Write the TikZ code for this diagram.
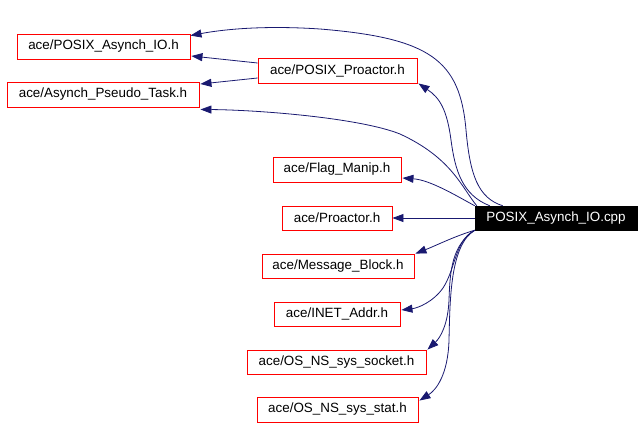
\documentclass[tikz,border=0pt]{standalone}
\usepackage{fontspec}
\setmainfont{Liberation Sans}
\usetikzlibrary{arrows.meta}
\definecolor{edgeblue}{HTML}{191970}
\tikzset{
  filebox/.style={draw=red, fill=white, line width=0.9pt, minimum height=25pt, inner sep=0pt,
    font=\fontsize{13.4}{16}\selectfont},
  mainbox/.style={draw=black, fill=black, text=white, minimum height=24pt, inner sep=0pt,
    font=\fontsize{13.4}{16}\selectfont},
  dep/.style={draw=edgeblue, line width=0.8pt, -{Triangle[length=11pt,width=8pt]}}
}
\begin{document}
\begin{tikzpicture}[x=1pt,y=-1pt]
\useasboundingbox (0,0) rectangle (644,428);
\node[filebox, minimum width=173pt] (aioh) at (103.5,46.5) {ace/POSIX\_Asynch\_IO.h};
\node[filebox, minimum width=159pt] (pproa) at (337.5,70.5) {ace/POSIX\_Proactor.h};
\node[filebox, minimum width=192pt] (apt) at (103,94.5) {ace/Asynch\_Pseudo\_Task.h};
\node[filebox, minimum width=128pt] (flag) at (337,169.5) {ace/Flag\_Manip.h};
\node[filebox, minimum width=110pt, minimum height=24pt] (proa) at (337,218) {ace/Proactor.h};
\node[mainbox, minimum width=162pt] (cpp) at (556,218) {POSIX\_Asynch\_IO.cpp};
\node[filebox, minimum width=152pt, minimum height=24pt] (mb) at (338,266) {ace/Message\_Block.h};
\node[filebox, minimum width=126pt, minimum height=24pt] (inet) at (337,314) {ace/INET\_Addr.h};
\node[filebox, minimum width=179pt, minimum height=24pt] (sock) at (336.5,362) {ace/OS\_NS\_sys\_socket.h};
\node[filebox, minimum width=161pt] (stat) at (337.5,409.5) {ace/OS\_NS\_sys\_stat.h};

% edges from cpp
\draw[dep] ([xshift=28pt]cpp.north west) .. controls (478,198) and (470,175) .. (466,130)
  .. controls (460,60) and (430,38) .. (320,29)
  .. controls (260,25) and (220,30) .. ([yshift=-2pt]aioh.north east);
\draw[dep] ([xshift=15pt]cpp.north west) .. controls (462,195) and (455,170) .. (451,140)
  .. controls (447,110) and (440,98) .. ([xshift=1pt]pproa.south east);
\draw[dep] ([xshift=2pt]cpp.north west) .. controls (462,188) and (452,158) .. (400,134)
  .. controls (360,118) and (260,110) .. ([xshift=1pt,yshift=-2pt]apt.south east);
\draw[dep] (cpp.north west) .. controls (455,195) and (430,180) .. ([xshift=1pt,yshift=-8.5pt]flag.east);
\draw[dep] (cpp.west) -- (proa.east);
\draw[dep] (cpp.south west) .. controls (455,236) and (435,246) .. ([xshift=1pt]mb.north east);
\draw[dep] (cpp.south west) .. controls (455,240) and (456,268) .. (443,288)
  .. controls (433,302) and (418,308) .. ([xshift=1pt,yshift=4pt]inet.east);
\draw[dep] (cpp.south west) .. controls (452,245) and (450,270) .. (449,300)
  .. controls (448,325) and (440,338) .. ([xshift=1pt]sock.north east);
\draw[dep] (cpp.south west) .. controls (450,245) and (450,300) .. (449,340)
  .. controls (448,375) and (436,390) .. ([xshift=1pt,yshift=-4pt]stat.north east);
% edges from POSIX_Proactor.h
\draw[dep] ([yshift=7.5pt]pproa.west) -- ([xshift=1pt,yshift=-9.5pt]aioh.east);
\draw[dep] ([yshift=-7.5pt]pproa.west) -- ([xshift=1pt,yshift=10.5pt]apt.east);
\end{tikzpicture}
\end{document}
